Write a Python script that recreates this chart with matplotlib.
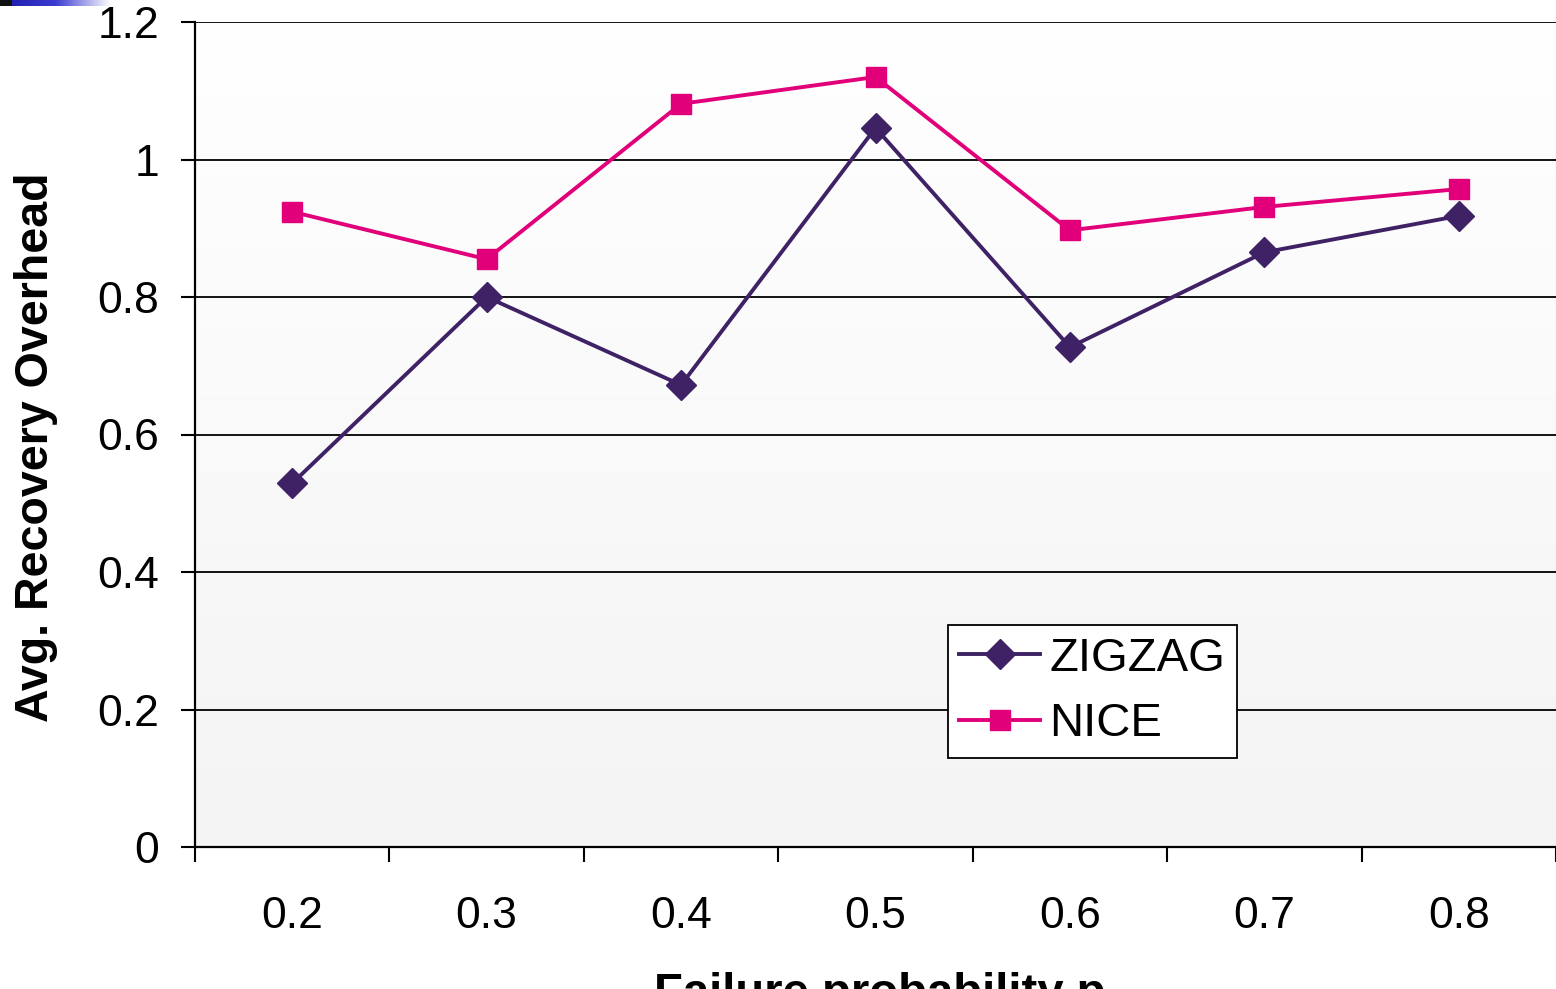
import numpy as np
import matplotlib
matplotlib.use('Agg')
import matplotlib.pyplot as plt
from matplotlib.colors import LinearSegmentedColormap

plt.rcParams['font.family'] = ['Liberation Sans', 'DejaVu Sans']

# data
categories = ['0.2', '0.3', '0.4', '0.5', '0.6', '0.7', '0.8']
zigzag = [0.529, 0.800, 0.672, 1.046, 0.727, 0.865, 0.918]
nice = [0.924, 0.855, 1.081, 1.120, 0.897, 0.931, 0.957]
yticks = [0, 0.2, 0.4, 0.6, 0.8, 1.0, 1.2]
ytick_labels = ['0', '0.2', '0.4', '0.6', '0.8', '1', '1.2']

fig = plt.figure(figsize=(15.56, 9.89), dpi=100)
ax = fig.add_axes([195/1556, 142/989, 1361/1556, 825/989])

# light gray gradient in the plot area (white at top)
grad = np.linspace(0, 1, 256).reshape(-1, 1)
cmap = LinearSegmentedColormap.from_list('bg', ['#f4f4f4', '#ffffff'])
ax.imshow(grad, extent=[0, 7, 0, 1.2], origin='lower', aspect='auto',
          cmap=cmap, zorder=0)

x = np.arange(len(categories)) + 0.5
ax.plot(x, zigzag, color='#3f2266', lw=2.8, marker='D', markersize=15,
        label='ZIGZAG', zorder=4)
ax.plot(x, nice, color='#e2007a', lw=2.8, marker='s', markersize=15,
        label='NICE', zorder=3)

ax.set_xlim(0, 7)
ax.set_ylim(0, 1.2)
ax.set_yticks(yticks)
ax.set_yticklabels(ytick_labels)
for y in yticks[1:]:
    ax.axhline(y, color='black', lw=1.3, zorder=1)

# excel-like ticks: marks at category edges, labels at centres
ax.set_xticks(np.arange(0, 8))
ax.set_xticklabels([])
ax.set_xticks(x, minor=True)
ax.set_xticklabels(categories, minor=True)
ax.tick_params(axis='x', which='major', length=11, width=1.5, direction='out')
ax.tick_params(axis='x', which='minor', length=0, pad=35, labelsize=32)
ax.tick_params(axis='y', length=10, width=1.5, pad=16, labelsize=32)

for s in ['top', 'right']:
    ax.spines[s].set_visible(False)
for s in ['left', 'bottom']:
    ax.spines[s].set_linewidth(1.6)

ax.set_ylabel('Avg. Recovery Overhead', fontsize=33.5, fontweight='bold', labelpad=28)
ax.yaxis.label.set_y(0.484)
fig.text(880/1556, -0.017, 'Failure probability p', fontsize=34, fontweight='bold',
         ha='center', va='baseline')

leg = ax.legend(loc='lower left', bbox_to_anchor=(0.553, 0.108), borderaxespad=0,
                fontsize=34, frameon=True, fancybox=False, edgecolor='black',
                framealpha=1, handlelength=1.7, handletextpad=0.2,
                labelspacing=0.45, borderpad=0.25)
leg.get_frame().set_linewidth(1.3)

# small blue title bar decoration at the top left
bar = fig.add_axes([0, 983/989, 110/1556, 6/989])
bcmap = LinearSegmentedColormap.from_list('bar', ['#1a1aa8', '#3b3bd0', '#ffffff'])
bar.imshow(np.linspace(0, 1, 256).reshape(1, -1), aspect='auto', cmap=bcmap)
bar.axis('off')
sq = fig.add_axes([0, 983/989, 12/1556, 6/989])
sq.set_facecolor('#111111')
sq.set_xticks([])
sq.set_yticks([])
for s in sq.spines.values():
    s.set_visible(False)

fig.savefig('out.png', dpi=100)
